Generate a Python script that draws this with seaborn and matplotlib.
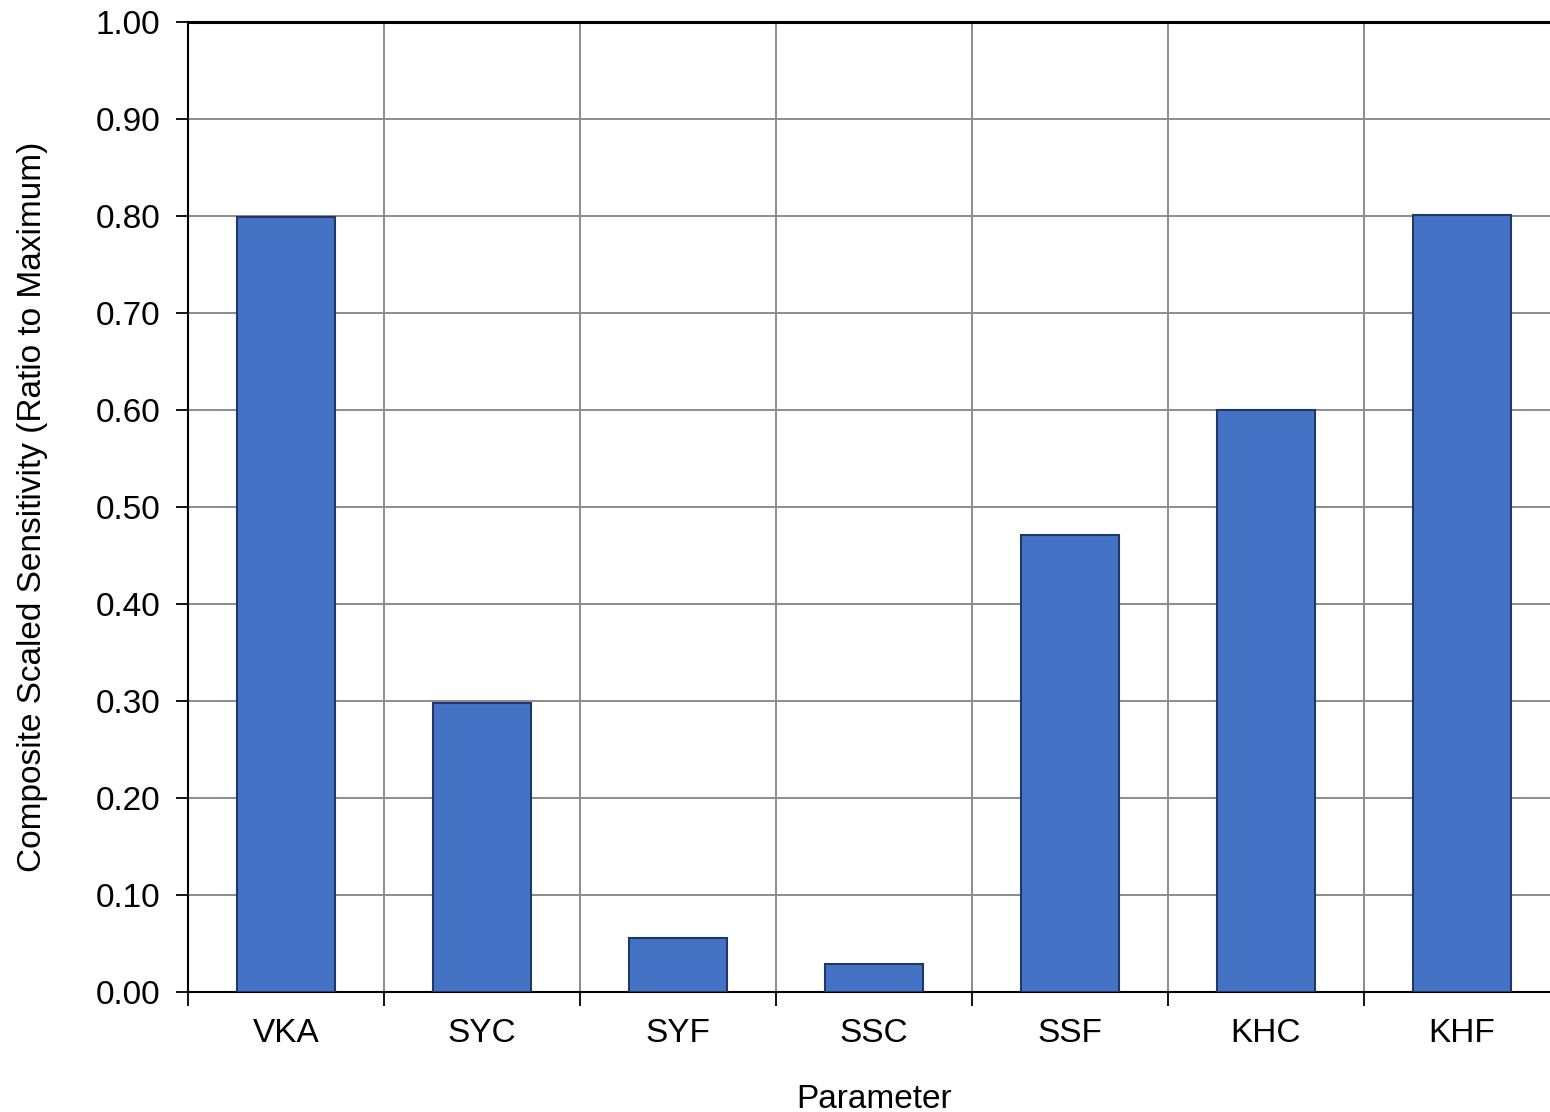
import matplotlib
matplotlib.use("Agg")
import matplotlib.pyplot as plt
import seaborn as sns
import pandas as pd
import numpy as np

parameters = ["VKA", "SYC", "SYF", "SSC", "SSF", "KHC", "KHF"]
sensitivity = [0.799, 0.298, 0.056, 0.029, 0.471, 0.600, 0.801]
y_ticks = [0.0, 0.1, 0.2, 0.3, 0.4, 0.5, 0.6, 0.7, 0.8, 0.9, 1.0]

sns.set_style("white")
plt.rcParams["font.family"] = ["Liberation Sans", "DejaVu Sans"]
plt.rcParams["text.color"] = "black"
plt.rcParams["axes.labelcolor"] = "black"
plt.rcParams["xtick.color"] = "black"
plt.rcParams["ytick.color"] = "black"

df = pd.DataFrame({"Parameter": parameters, "Sensitivity": sensitivity})

fig = plt.figure(figsize=(15.5, 11.12), dpi=100)
ax = fig.add_axes([188 / 1550, 120 / 1112, 1372 / 1550, 970 / 1112])

sns.barplot(data=df, x="Parameter", y="Sensitivity", color="#4472C4",
            saturation=1, width=0.5, edgecolor="#1F3864", linewidth=1.5,
            ax=ax, zorder=3)

ax.set_xlim(-0.5, len(parameters) - 0.5)
ax.set_ylim(0, 1.0)
ax.set_yticks(y_ticks)
ax.set_yticklabels([f"{v:.2f}" for v in y_ticks])

# category boundaries carry the ticks and grid; labels sit at centres
n = len(parameters)
ax.set_xticks(np.arange(-0.5, n, 1.0))
ax.set_xticklabels([""] * (n + 1))
ax.set_xticks(np.arange(n), minor=True)
ax.set_xticklabels(parameters, minor=True)
ax.tick_params(axis="x", which="minor", length=0, pad=19, labelsize=24)
ax.tick_params(axis="x", which="major", length=10, width=1.3, direction="out",
               bottom=True)
ax.tick_params(axis="y", length=9, width=1.3, direction="out", left=True,
               labelsize=24, pad=11)

ax.grid(True, which="major", color="#8c8c8c", linewidth=1.4, zorder=0)
ax.set_axisbelow(True)

for side in ["left", "bottom", "top"]:
    ax.spines[side].set_visible(True)
    ax.spines[side].set_color("black")
ax.spines["left"].set_linewidth(1.5)
ax.spines["bottom"].set_linewidth(1.5)
ax.spines["top"].set_linewidth(2.2)
ax.spines["right"].set_visible(False)

ax.set_xlabel("Parameter", fontsize=24)
ax.set_ylabel("Composite Scaled Sensitivity (Ratio to Maximum)", fontsize=24)
ax.xaxis.set_label_coords(0.5, (992 - 1084) / 970)
ax.yaxis.set_label_coords((48 - 188) / 1372, 0.5)

fig.savefig("out.png", dpi=100)
